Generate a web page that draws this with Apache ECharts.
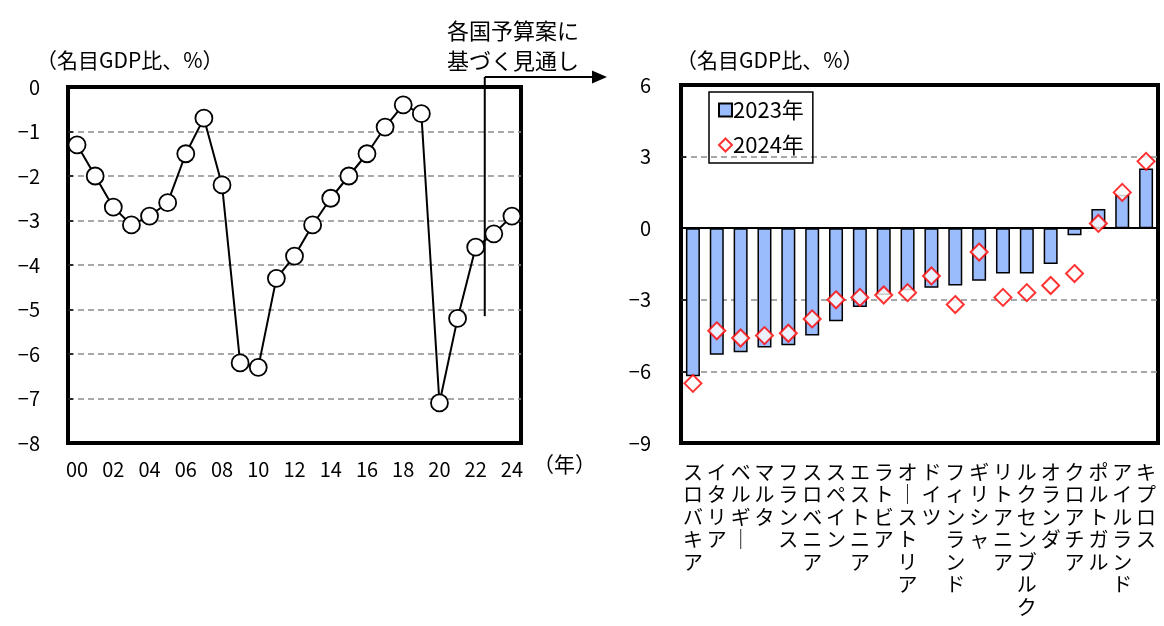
<!DOCTYPE html>
<html>
<head>
<meta charset="utf-8">
<script src="https://cdn.jsdelivr.net/npm/echarts@6/dist/echarts.min.js"></script>
<style>
  html, body { margin: 0; padding: 0; background: #fff; }
  #chart { width: 1164px; height: 626px; }
</style>
</head>
<body>
<div id="chart"></div>
<script>
// General government balance (% of nominal GDP), 2000-2024
const years = ['00','01','02','03','04','05','06','07','08','09','10','11','12',
               '13','14','15','16','17','18','19','20','21','22','23','24'];
const balance = [-1.3, -2.0, -2.7, -3.1, -2.9, -2.6, -1.5, -0.7, -2.2, -6.2, -6.3, -4.3, -3.8,
                 -3.1, -2.5, -2.0, -1.5, -0.9, -0.4, -0.6, -7.1, -5.2, -3.6, -3.3, -2.9];

// Balance by country (% of nominal GDP)
const countries = ['スロバキア','イタリア','ベルギー','マルタ','フランス','スロベニア','スペイン',
                   'エストニア','ラトビア','オーストリア','ドイツ','フィンランド','ギリシャ',
                   'リトアニア','ルクセンブルク','オランダ','クロアチア','ポルトガル','アイルランド','キプロス'];
const bal2023 = [-6.2, -5.3, -5.2, -5.0, -4.9, -4.5, -3.9, -3.3, -2.8, -2.6, -2.5, -2.4, -2.2,
                 -1.9, -1.9, -1.5, -0.3, 0.8, 1.4, 2.5];
const bal2024 = [-6.5, -4.3, -4.6, -4.5, -4.4, -3.8, -3.0, -2.9, -2.8, -2.7, -2.0, -3.2, -1.0,
                 -2.9, -2.7, -2.4, -1.9, 0.2, 1.5, 2.8];

const leftTicks = { min: -8, max: 0, interval: 1 };
const rightTicks = { min: -9, max: 6, interval: 3 };

const FONT = "'Noto Sans CJK JP', 'Noto Sans', sans-serif";
const GRID_DASH = '#8c8c8c';

const chart = echarts.init(document.getElementById('chart'));

// split line colours per tick (min → max): hide lines that sit on the frame
function splitColors(t, hideZero) {
  const out = [];
  for (let v = t.min; v <= t.max + 1e-9; v += t.interval) {
    const onFrame = (v === t.min || v === t.max);
    out.push(onFrame || (hideZero && v === 0) ? 'rgba(0,0,0,0)' : GRID_DASH);
  }
  return out;
}

function verticalLabel(name) {
  return name.split('').map(c => (c === 'ー' ? '｜' : c)).join('\n');
}

function minusLabel(v) {
  return String(v).replace('-', '−');
}

chart.setOption({
  animation: false,
  textStyle: { fontFamily: FONT, color: '#000' },
  grid: [
    { left: 68, top: 87, width: 453, height: 356, show: true, borderColor: '#000', borderWidth: 4, backgroundColor: 'rgba(0,0,0,0)' },
    { left: 681, top: 85, width: 477, height: 358, show: true, borderColor: '#000', borderWidth: 4, backgroundColor: 'rgba(0,0,0,0)' }
  ],
  legend: {
    data: [{ name: '2023年', icon: 'rect' }, { name: '2024年' }],
    orient: 'vertical',
    left: 709, top: 92,
    borderColor: '#000', borderWidth: 1.5,
    padding: [6, 9, 6, 9],
    itemGap: 11,
    itemWidth: 13, itemHeight: 13,
    textStyle: { fontSize: 22, lineHeight: 24, color: '#000', fontFamily: FONT, padding: [0, 0, 0, -4] }
  },
  xAxis: [
    {
      type: 'category', gridIndex: 0, data: years, boundaryGap: true,
      axisLine: { show: false }, axisTick: { show: false },
      axisLabel: { interval: 1, fontSize: 20, margin: 16, color: '#000' }
    },
    {
      type: 'category', gridIndex: 1, data: countries, boundaryGap: true,
      axisLine: { show: false }, axisTick: { show: false },
      axisLabel: {
        interval: 0, fontSize: 20, lineHeight: 22.5, margin: 18, color: '#000',
        verticalAlign: 'top', formatter: verticalLabel
      }
    }
  ],
  yAxis: [
    {
      type: 'value', gridIndex: 0, min: leftTicks.min, max: leftTicks.max, interval: leftTicks.interval,
      axisLine: { show: false },
      axisTick: { show: true, inside: true, length: 5, lineStyle: { color: '#000', width: 1.5 } },
      axisLabel: { fontSize: 20, margin: 28, color: '#000', formatter: minusLabel },
      splitLine: { show: true, lineStyle: { color: splitColors(leftTicks, false), type: [6, 4], width: 1.5 } }
    },
    {
      type: 'value', gridIndex: 1, min: rightTicks.min, max: rightTicks.max, interval: rightTicks.interval,
      axisLine: { show: false },
      axisTick: { show: true, inside: true, length: 5, lineStyle: { color: '#000', width: 1.5 } },
      axisLabel: { fontSize: 20, margin: 30, color: '#000', formatter: minusLabel },
      splitLine: { show: true, lineStyle: { color: splitColors(rightTicks, true), type: [6, 4], width: 1.5 } }
    }
  ],
  series: [
    {
      name: '財政収支', type: 'line', xAxisIndex: 0, yAxisIndex: 0, data: balance,
      symbol: 'circle', symbolSize: 17, showAllSymbol: true,
      lineStyle: { color: '#000', width: 2 },
      itemStyle: { color: '#fff', borderColor: '#000', borderWidth: 1.8 },
      z: 5
    },
    {
      name: '2023年', type: 'bar', xAxisIndex: 1, yAxisIndex: 1, data: bal2023,
      barWidth: 14,
      itemStyle: { color: '#9BBCFC', borderColor: '#000', borderWidth: 1.5 },
      markLine: {
        silent: true, symbol: 'none', label: { show: false },
        lineStyle: { color: '#000', width: 2, type: 'solid' },
        data: [{ yAxis: 0 }]
      },
      z: 3
    },
    {
      name: '2024年', type: 'scatter', xAxisIndex: 1, yAxisIndex: 1, data: bal2024,
      symbol: 'diamond', symbolSize: 17,
      itemStyle: { color: '#fff', borderColor: '#FF0000', borderWidth: 2 },
      z: 6
    }
  ]
});

// Forecast marker: boundary between 2022 and 2023, with arrow pointing right
const x22 = chart.convertToPixel({ xAxisIndex: 0 }, '22');
const x23 = chart.convertToPixel({ xAxisIndex: 0 }, '23');
const xSplit = (x22 + x23) / 2;
const yLineBottom = chart.convertToPixel({ yAxisIndex: 0 }, -5.15);
const yArrow = 77;
const tipX = 607;

chart.setOption({
  graphic: [
    { type: 'line', shape: { x1: xSplit, y1: yArrow, x2: xSplit, y2: yLineBottom }, style: { stroke: '#000', lineWidth: 2 }, z: 10 },
    { type: 'line', shape: { x1: xSplit, y1: yArrow, x2: tipX - 13, y2: yArrow }, style: { stroke: '#000', lineWidth: 2 }, z: 10 },
    { type: 'polygon', shape: { points: [[tipX - 15, yArrow - 6.5], [tipX, yArrow], [tipX - 15, yArrow + 6.5]] }, style: { fill: '#000' }, z: 10 },
    { type: 'text', left: 447, top: 16, style: { text: '各国予算案に\n基づく見通し', font: "22px " + FONT, lineHeight: 30, fill: '#000' }, z: 10 },
    { type: 'text', left: 36, top: 50, style: { text: '（名目GDP比、%）', font: "21px " + FONT, fill: '#000' } },
    { type: 'text', left: 676, top: 50, style: { text: '（名目GDP比、%）', font: "21px " + FONT, fill: '#000' } },
    { type: 'text', left: 533, top: 454, style: { text: '（年）', font: "21px " + FONT, fill: '#000' } }
  ]
});
</script>
</body>
</html>
